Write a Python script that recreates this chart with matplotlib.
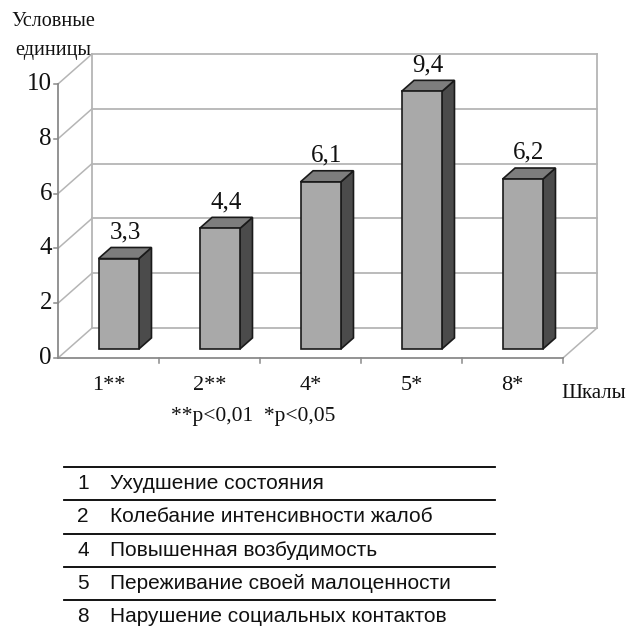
import matplotlib
matplotlib.use("Agg")
import matplotlib.pyplot as plt
from matplotlib.patches import Polygon
from matplotlib.lines import Line2D

# данные
categories = ["1**", "2**", "4*", "5*", "8*"]
values = [3.3, 4.4, 6.1, 9.4, 6.2]
value_labels = ["3,3", "4,4", "6,1", "9,4", "6,2"]
yticks = [0, 2, 4, 6, 8, 10]
legend_nums = ["1", "2", "4", "5", "8"]
legend_texts = ["Ухудшение состояния",
                "Колебание интенсивности жалоб",
                "Повышенная возбудимость",
                "Переживание своей малоценности",
                "Нарушение социальных контактов"]

W, H = 629, 630
fig = plt.figure(figsize=(W / 100, H / 100), dpi=100)
ax = fig.add_axes([0, 0, 1, 1])

# масштаб: 1 категория = 101 px, 1 единица = 27.4 px, начало (58, 358)
cat_px = 101.0
unit_px = 27.4
x0, y0 = 58, 358
ax.set_xlim(-x0 / cat_px, (W - x0) / cat_px)
ax.set_ylim(-(H - y0) / unit_px, y0 / unit_px)
ax.axis("off")

# глубина (смещение задней стенки)
DX = 34 / cat_px
DY = 30 / unit_px
ncat = len(categories)
ymax = 10

grid_c = "#b5b5b5"
axis_c = "#8a8a8a"
serif = "Liberation Serif"
txt_c = "#111111"

# левая стенка: диагонали
for k in yticks:
    ax.plot([0, DX], [k, k + DY], color=grid_c, lw=1.1, zorder=1)
# задняя стенка: горизонтальные линии сетки
for k in yticks:
    ax.plot([DX, ncat + DX], [k + DY, k + DY], color=grid_c, lw=1.3, zorder=1)
ax.plot([DX, DX], [DY, ymax + DY], color=grid_c, lw=1.3, zorder=1)
ax.plot([ncat + DX, ncat + DX], [DY, ymax + DY], color=grid_c, lw=1.3, zorder=1)
# пол
ax.plot([ncat, ncat + DX], [0, DY], color=grid_c, lw=1.1, zorder=1)
ax.plot([0, ncat], [0, 0], color=axis_c, lw=1.3, zorder=2)
ax.plot([0, 0], [0, ymax], color=axis_c, lw=1.3, zorder=2)

# деления
for k in yticks:
    ax.plot([-0.04, 0], [k, k], color=axis_c, lw=1.1)
    ax.text(-0.06, k, str(k), ha="right", va="center", fontsize=18,
            family=serif, color=txt_c)
for i in range(1, ncat + 1):
    ax.plot([i, i], [0, -0.18], color=axis_c, lw=1.1)
for i, c in enumerate(categories):
    ax.text(i + 0.5, -1.0, c, ha="center", va="center", fontsize=16,
            family=serif, color=txt_c)

# столбцы
bw = 0.4
d_front = 0.3
d_back = 0.67
for i, v in enumerate(values):
    fx = i + 0.5 - bw / 2 + d_front * DX
    fy = d_front * DY
    ox = (d_back - d_front) * DX
    oy = (d_back - d_front) * DY
    front = [(fx, fy), (fx + bw, fy), (fx + bw, fy + v), (fx, fy + v)]
    side = [(fx + bw, fy), (fx + bw + ox, fy + oy),
            (fx + bw + ox, fy + v + oy), (fx + bw, fy + v)]
    top = [(fx, fy + v), (fx + bw, fy + v),
           (fx + bw + ox, fy + v + oy), (fx + ox, fy + v + oy)]
    ax.add_patch(Polygon(side, closed=True, fc="#4b4b4b", ec="#1a1a1a", lw=1.2, zorder=3))
    ax.add_patch(Polygon(top, closed=True, fc="#7d7d7d", ec="#1a1a1a", lw=1.2, zorder=3))
    ax.add_patch(Polygon(front, closed=True, fc="#a9a9a9", ec="#1a1a1a", lw=1.2, zorder=4))
    ax.text(fx + bw / 2 + ox / 2, fy + v + oy + 0.15, value_labels[i],
            ha="center", va="bottom", fontsize=18, family=serif, color=txt_c)

# подписи осей
fig.text(53 / W, 1 - 22 / H, "Условные", ha="center", va="center",
         fontsize=14.5, family=serif, color=txt_c)
fig.text(53 / W, 1 - 51 / H, "единицы", ha="center", va="center",
         fontsize=14.5, family=serif, color=txt_c)
fig.text(594 / W, 1 - 393 / H, "Шкалы", ha="center", va="center",
         fontsize=15, family=serif, color=txt_c)
fig.text(253 / W, 1 - 417 / H, "**p<0,01  *p<0,05", ha="center", va="center",
         fontsize=15.5, family=serif, color=txt_c)

# таблица-расшифровка
row_h = 33.3
line_y0 = 467
for r in range(len(legend_nums)):
    ly = line_y0 + r * row_h
    fig.add_artist(Line2D([64 / W, 495 / W], [1 - ly / H, 1 - ly / H],
                          color="black", lw=1.3))
    ty = ly + row_h / 2
    fig.text(83 / W, 1 - ty / H, legend_nums[r], ha="center", va="center",
             fontsize=15, family="Liberation Sans", color=txt_c)
    fig.text(110 / W, 1 - ty / H, legend_texts[r], ha="left", va="center",
             fontsize=15, family="Liberation Sans", color=txt_c)

fig.savefig("out.png", dpi=100)
